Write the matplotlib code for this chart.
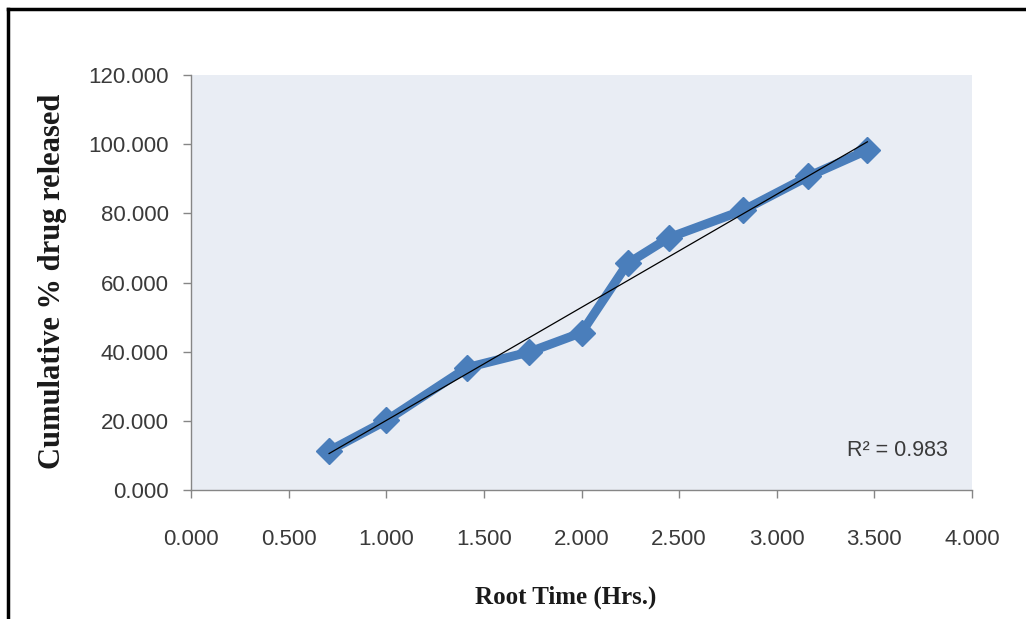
import numpy as np
import matplotlib
matplotlib.use("Agg")
import matplotlib.pyplot as plt
from matplotlib.lines import Line2D

# Release data: square root of time (hrs) vs cumulative % drug released
root_time = [0.707, 1.000, 1.414, 1.732, 2.000, 2.236, 2.449, 2.828, 3.162, 3.464]
cum_release = [11.3, 20.1, 35.4, 39.9, 45.5, 65.5, 73.0, 80.9, 90.7, 98.3]
r_squared = "0.983"

x_ticks = [0.0, 0.5, 1.0, 1.5, 2.0, 2.5, 3.0, 3.5, 4.0]
y_ticks = [0, 20, 40, 60, 80, 100, 120]

tick_font = "Liberation Sans"
label_font = "Liberation Serif"
tick_color = "#3a3a3a"
axis_color = "#868686"

fig = plt.figure(figsize=(10.26, 6.19), dpi=100)
ax = fig.add_axes([0.1862, 0.2084, 0.7612, 0.6704])
ax.set_facecolor("#E9EDF4")

# data series
ax.plot(root_time, cum_release, color="#4A7EBB", lw=6.5, marker="D",
        ms=13, mec="#4A7EBB", mfc="#4A7EBB", zorder=3,
        solid_joinstyle="round")

# linear trendline
coef = np.polyfit(root_time, cum_release, 1)
xt = np.array([root_time[0], root_time[-1]])
ax.plot(xt, np.polyval(coef, xt), color="black", lw=0.9, zorder=4)

ax.text(3.36, 11.5, "R\u00b2 = " + r_squared, fontsize=15.5,
        family=tick_font, color=tick_color, va="center", ha="left")

ax.set_xlim(0, 4)
ax.set_ylim(0, 120)
ax.set_xticks(x_ticks)
ax.set_yticks(y_ticks)
ax.set_xticklabels([f"{v:.3f}" for v in x_ticks])
ax.set_yticklabels([f"{v:.3f}" for v in y_ticks])

for side in ("top", "right"):
    ax.spines[side].set_visible(False)
for side in ("left", "bottom"):
    ax.spines[side].set_color(axis_color)
    ax.spines[side].set_linewidth(1.0)

ax.tick_params(axis="both", direction="out", length=6, width=1.0,
               color=axis_color, labelcolor=tick_color, labelsize=16)
ax.tick_params(axis="x", pad=22)
ax.tick_params(axis="y", pad=10)
for lab in ax.get_xticklabels() + ax.get_yticklabels():
    lab.set_family(tick_font)

fig.text(0.0507, 0.5455, "Cumulative % drug released", rotation=90,
         ha="center", va="center", family=label_font, weight="bold",
         fontsize=22, color="#1a1a1a")
fig.text(0.551, 0.035, "Root Time (Hrs.)", ha="center", va="center",
         family=label_font, weight="bold", fontsize=18, color="#1a1a1a")

# outer frame lines (left and top only)
fig.add_artist(Line2D([0.008, 0.008], [0.0, 0.986], transform=fig.transFigure,
                      color="black", lw=2.5))
fig.add_artist(Line2D([0.008, 1.0], [0.986, 0.986], transform=fig.transFigure,
                      color="black", lw=2.5))

fig.savefig("out.png", dpi=100, facecolor="white")
